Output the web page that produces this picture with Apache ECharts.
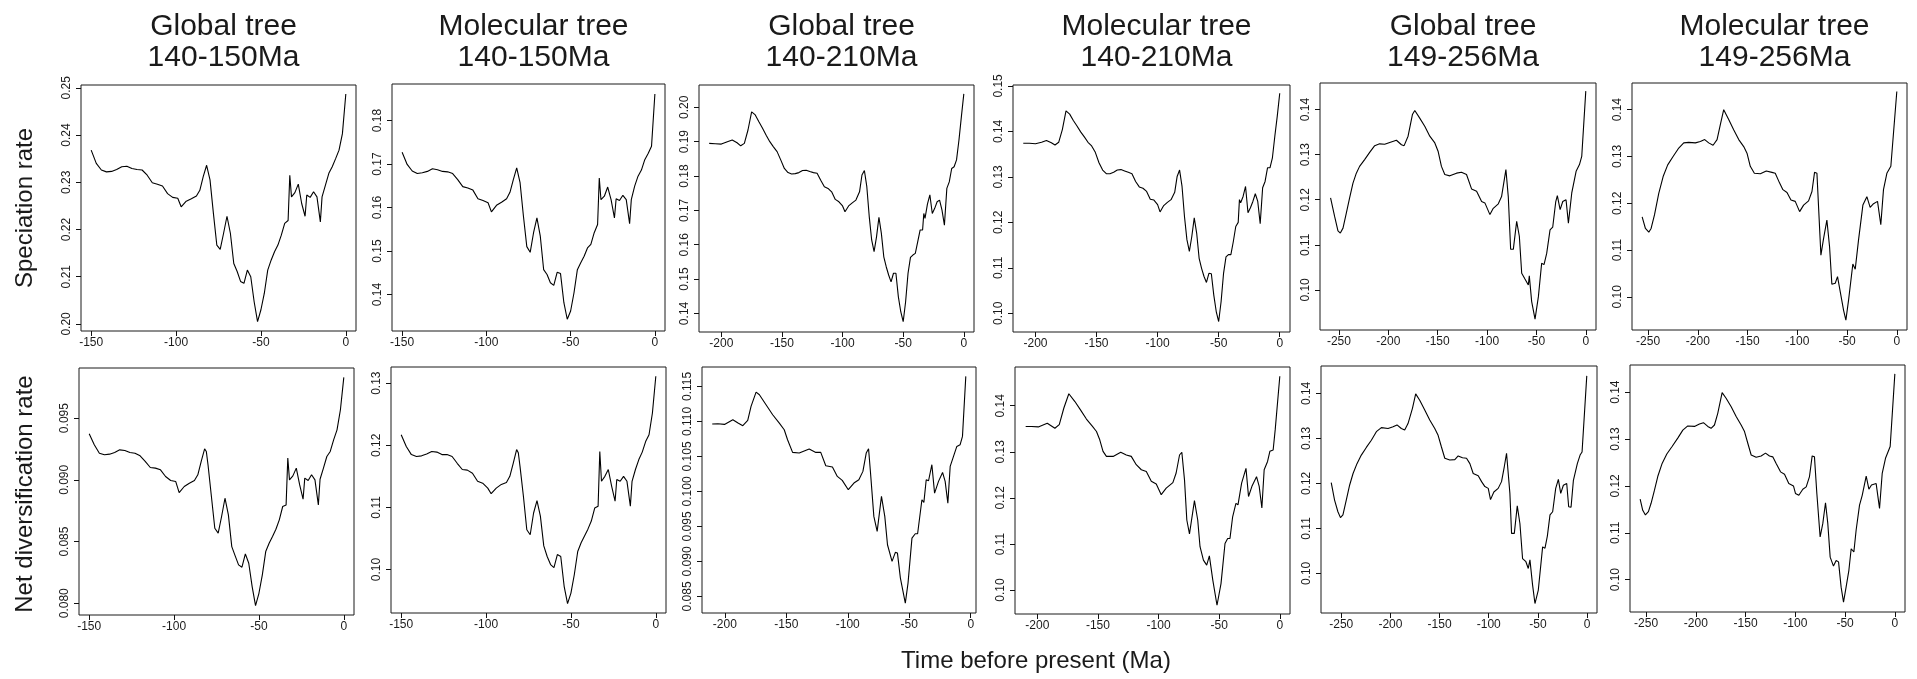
<!DOCTYPE html>
<html>
<head>
<meta charset="utf-8">
<title>Speciation and net diversification rates through time</title>
<script src="https://cdn.jsdelivr.net/npm/echarts@6/dist/echarts.min.js"></script>
<style>
  html, body { margin: 0; padding: 0; background: #fff; }
  #chart { width: 1917px; height: 679px; }
</style>
</head>
<body>
<div id="chart"></div>
<script>
// ---- data (time in Ma before present, rates per Ma) ----

// 140-150Ma trees
const time150 = [-150,-147,-144,-141,-138,-135,-132,-129,-126,-123,-120,-117,-114,-111,-108,-105,-102,-99,
  -97,-94,-91,-88,-86,-84,-82,-81,-80,
  -78,-76,-74,-72,-70,-68,-66,-64,-62,-60,-58,-56,-54,-52,-50,-48,-46,-44,-42,-40,-38,-36,-34,
  -33,-32,-30,-28,-26,-24,-23,-21,-19,-17,-15,-14,-12,-10,-8,-6,-4,-2,0];
const specGlobal150 = [0.2368,0.2340,0.2326,0.2322,0.2323,0.2327,0.2333,0.2334,0.2329,0.2327,0.2326,0.2315,0.2299,0.2296,0.2292,0.2276,0.2268,0.2266,
  0.2248,0.2260,0.2265,0.2271,0.2283,0.2312,0.2336,0.2333,0.2305,
  0.2234,0.2167,0.2158,0.2192,0.2228,0.2192,0.2128,0.2111,0.2090,0.2086,0.2114,0.2100,0.2047,0.2005,0.2030,0.2065,0.2114,0.2135,0.2153,0.2167,0.2188,0.2213,0.2219,
  0.2315,0.2269,0.2278,0.2296,0.2255,0.2228,0.2273,0.2268,0.2280,0.2269,0.2216,0.2269,0.2294,0.2319,0.2333,0.2350,0.2368,0.2403,0.2487];
const specMol150 = [0.1727,0.1699,0.1684,0.1678,0.1680,0.1683,0.1689,0.1687,0.1683,0.1682,0.1678,0.1664,0.1648,0.1645,0.1640,0.1620,0.1616,0.1611,
  0.1590,0.1605,0.1612,0.1620,0.1635,0.1664,0.1691,0.1687,0.1657,
  0.1580,0.1510,0.1497,0.1542,0.1576,0.1534,0.1457,0.1446,0.1427,0.1421,0.1451,0.1448,0.1381,0.1343,0.1362,0.1404,0.1457,0.1473,0.1488,0.1507,0.1515,0.1542,0.1561,
  0.1668,0.1618,0.1626,0.1647,0.1618,0.1576,0.1620,0.1616,0.1628,0.1618,0.1563,0.1618,0.1649,0.1672,0.1686,0.1710,0.1724,0.1741,0.1861];
const netGlobal150 = [0.09373,0.09284,0.09216,0.09203,0.09208,0.09222,0.09243,0.09238,0.09222,0.09216,0.09195,0.09149,0.09100,0.09095,0.09081,0.09027,0.08995,0.08986,
  0.08897,0.08946,0.08973,0.08995,0.09041,0.09149,0.09251,0.09230,0.09122,
  0.08865,0.08608,0.08568,0.08703,0.08851,0.08716,0.08459,0.08384,0.08311,0.08292,0.08400,0.08324,0.08135,0.07981,0.08081,0.08230,0.08419,0.08486,0.08541,0.08600,0.08676,0.08784,0.08797,
  0.09176,0.09000,0.09032,0.09095,0.08959,0.08843,0.09014,0.08995,0.09041,0.09000,0.08797,0.09005,0.09095,0.09189,0.09230,0.09324,0.09405,0.09568,0.09830];
const netMol150 = [0.1217,0.1198,0.1185,0.1182,0.1183,0.1186,0.1190,0.1189,0.1185,0.1185,0.1182,0.1171,0.1161,0.1160,0.1155,0.1142,0.1139,0.1131,
  0.1122,0.1131,0.1137,0.1140,0.1150,0.1171,0.1193,0.1188,0.1166,
  0.1118,0.1064,0.1056,0.1091,0.1111,0.1086,0.1038,0.1021,0.1008,0.1003,0.1024,0.1021,0.0973,0.0945,0.0962,0.0992,0.1029,0.1043,0.1054,0.1065,0.1078,0.1099,0.1102,
  0.1190,0.1142,0.1150,0.1161,0.1134,0.1110,0.1145,0.1142,0.1150,0.1142,0.1102,0.1142,0.1161,0.1177,0.1189,0.1206,0.1217,0.1252,0.1311];

// 140-210Ma trees
const time210 = [-210,-205,-200,-195,-191,-187,-184,-181,-178,-175,-172,-169,-166,-163,-160,-157,-154,-151,-148,-145,-142,-139,-136,-133,-130,-127,-124,-121,-118,-115,-112,-109,-106,-103,-100,
  -98,-95,-92,-89,-86,-84,-82,-81,-80,
  -78,-76,-74,-72,-70,-68,-66,-64,-62,-60,-58,-56,-54,-52,-50,-48,-46,-44,-42,-40,-38,-36,-34,
  -33,-32,-30,-28,-26,-24,-22,-20,-18,-16,-14,-12,-10,-8,-6,-4,-2,0];
const specGlobal210 = [0.1895,0.1894,0.1893,0.1900,0.1905,0.1897,0.1888,0.1895,0.1934,0.1987,0.1978,0.1958,0.1939,0.1919,0.1900,0.1885,0.1871,0.1847,0.1822,0.1810,0.1806,0.1807,0.1810,0.1816,0.1817,0.1813,0.1810,0.1808,0.1788,0.1769,0.1764,0.1754,0.1732,0.1725,0.1713,
  0.1696,0.1713,0.1722,0.1730,0.1754,0.1803,0.1816,0.1817,0.1769,
  0.1682,0.1614,0.1580,0.1623,0.1680,0.1633,0.1565,0.1536,0.1512,0.1492,0.1517,0.1517,0.1449,0.1405,0.1376,0.1434,0.1517,0.1563,0.1570,0.1575,0.1609,0.1643,0.1643,
  0.1691,0.1677,0.1718,0.1745,0.1691,0.1706,0.1725,0.1730,0.1701,0.1657,0.1764,0.1783,0.1822,0.1827,0.1847,0.1905,0.1973,0.2039];
const specMol210 = [0.1374,0.1374,0.1373,0.1376,0.1380,0.1375,0.1370,0.1376,0.1404,0.1445,0.1438,0.1424,0.1412,0.1399,0.1388,0.1376,0.1368,0.1354,0.1331,0.1315,0.1307,0.1307,0.1310,0.1315,0.1316,0.1313,0.1310,0.1307,0.1290,0.1278,0.1275,0.1268,0.1251,0.1249,0.1239,
  0.1223,0.1237,0.1244,0.1250,0.1266,0.1301,0.1315,0.1316,0.1279,
  0.1213,0.1162,0.1136,0.1169,0.1210,0.1176,0.1121,0.1099,0.1081,0.1068,0.1088,0.1087,0.1040,0.1004,0.0982,0.1026,0.1088,0.1124,0.1129,0.1129,0.1158,0.1191,0.1200,
  0.1250,0.1243,0.1257,0.1279,0.1221,0.1232,0.1246,0.1263,0.1246,0.1197,0.1276,0.1290,0.1320,0.1320,0.1342,0.1390,0.1434,0.1484];
const timeNetGlobal210 = [-210.3,-205.7,-200.3,-193.5,-189.3,-185.4,-181.4,-178.7,-174.6,-171.9,-166.5,-161.1,-155.7,-151.7,-149.0,-144.9,-139.5,-131.4,-126.0,-122.0,
  -117.9,-112.5,-108.5,-104.5,-99.6,-95.0,-91.0,-87.7,-85.0,-83.1,-81.5,-78.8,-76.1,-72.6,-69.9,-67.7,-64.0,-61.3,-59.6,-57.2,
  -53.2,-51.0,-47.8,-45.1,-43.2,-39.7,-38.1,-36.2,-34.3,-31.6,-29.4,-26.2,-22.9,-20.8,-18.6,-16.7,-14.0,-11.3,-8.6,-6.7,-4.0];
const netGlobal210 = [0.10962,0.10967,0.10957,0.11024,0.10976,0.10938,0.11014,0.11214,0.11419,0.11381,0.11238,0.11095,0.10976,0.10881,0.10738,0.10557,0.10548,0.10605,0.10557,0.10557,
  0.10367,0.10348,0.10214,0.10157,0.10024,0.10119,0.10167,0.10286,0.10548,0.10610,0.10262,0.09643,0.09429,0.09929,0.09643,0.09238,0.09000,0.09129,0.09119,0.08762,
  0.08405,0.08690,0.09333,0.09395,0.09395,0.09881,0.09843,0.10167,0.10152,0.10381,0.09976,0.10143,0.10271,0.10143,0.09833,0.10357,0.10500,0.10643,0.10667,0.10786,0.11643];
const timeNetMol210 = [-209.6,-204.7,-199.2,-191.8,-185.5,-181.9,-178.1,-174.0,-169.0,-164.4,-159.5,-154.5,-151.2,-148.5,-145.8,-143.0,-137.5,-131.2,-126.6,-122.5,
  -118.4,-114.2,-110.1,-106.0,-101.9,-97.8,-93.7,-88.2,-85.5,-82.7,-80.8,-78.6,-76.7,-74.5,-70.4,-67.7,-65.8,-63.0,-60.3,-58.1,
  -55.3,-51.8,-48.5,-45.2,-43.0,-41.1,-38.9,-36.2,-34.5,-31.5,-30.1,-27.9,-25.8,-23.0,-19.2,-17.0,-14.8,-12.9,-10.1,-8.2,-5.5,-3.8,0];
const netMol210 = [0.1355,0.1355,0.1354,0.1362,0.1351,0.1359,0.1395,0.1426,0.1409,0.1391,0.1371,0.1355,0.1344,0.1326,0.1301,0.1290,0.1290,0.1299,0.1293,0.1290,
  0.1272,0.1261,0.1257,0.1236,0.1230,0.1207,0.1221,0.1233,0.1254,0.1293,0.1299,0.1239,0.1152,0.1122,0.1194,0.1152,0.1094,0.1065,0.1054,0.1074,
  0.1022,0.0967,0.1014,0.1101,0.1112,0.1112,0.1159,0.1188,0.1185,0.1232,0.1228,0.1264,0.1203,0.1225,0.1246,0.1225,0.1178,0.1261,0.1279,0.1301,0.1304,0.1348,0.1464];

// 149-256Ma trees
const timeSpecGlobal256 = [-258.5,-254.4,-251.0,-248.6,-245.9,-242.6,-239.2,-235.8,-232.4,-229.1,-224.0,-218.9,-213.8,-208.8,-203.7,-198.6,-191.8,-186.7,-184.0,-180.0,
  -175.6,-173.2,-168.2,-163.1,-158.0,-152.9,-149.5,-146.2,-142.8,-137.7,-130.9,-125.9,-120.8,-115.7,-110.6,-105.5,-102.2,-97.1,-93.7,-88.6,
  -85.3,-80.9,-78.5,-76.1,-73.4,-70.0,-67.3,-64.9,-61.6,-58.2,-57.2,-54.8,-51.4,-48.0,-44.7,-42.3,-39.6,-36.2,-33.5,-30.4,
  -28.8,-26.0,-23.3,-20.0,-17.6,-14.2,-9.8,-6.4,-4.1,0];
const specGlobal256 = [0.1204,0.1163,0.1131,0.1126,0.1137,0.1170,0.1204,0.1237,0.1259,0.1274,0.1289,0.1305,0.1320,0.1324,0.1323,0.1327,0.1332,0.1322,0.1320,0.1341,
  0.1389,0.1398,0.1381,0.1363,0.1341,0.1326,0.1307,0.1274,0.1256,0.1253,0.1259,0.1261,0.1256,0.1224,0.1219,0.1196,0.1193,0.1167,0.1181,0.1191,
  0.1207,0.1267,0.1207,0.1090,0.1090,0.1152,0.1119,0.1037,0.1024,0.1011,0.1031,0.0974,0.0935,0.0985,0.1059,0.1056,0.1081,0.1133,0.1139,0.1196,
  0.1209,0.1178,0.1196,0.1200,0.1148,0.1215,0.1263,0.1278,0.1296,0.1441];
const timeSpecMol256 = [-256.0,-252.7,-249.3,-247.0,-243.6,-239.3,-234.9,-230.3,-224.9,-219.2,-214.2,-209.2,-202.5,-197.5,-193.1,-189.1,-184.7,-180.7,-177.4,-174.0,
  -169.0,-164.0,-158.9,-153.9,-150.6,-147.3,-143.2,-137.2,-131.2,-125.5,-122.2,-117.8,-114.5,-110.4,-106.4,-102.1,-97.7,-93.7,-88.7,-85.3,
  -82.7,-80.3,-76.3,-73.6,-70.3,-67.6,-65.3,-61.9,-59.6,-57.6,-53.5,-51.2,-48.5,-44.2,-41.8,-38.5,-34.1,-30.1,-26.8,-23.4,
  -19.4,-16.1,-13.4,-10.0,-6.0,-5.0,0];
const specMol256 = [0.1171,0.1146,0.1138,0.1146,0.1175,0.1221,0.1257,0.1282,0.1300,0.1318,0.1329,0.1330,0.1329,0.1332,0.1336,0.1329,0.1324,0.1336,0.1368,0.1400,
  0.1379,0.1357,0.1336,0.1321,0.1307,0.1279,0.1264,0.1263,0.1269,0.1266,0.1264,0.1243,0.1229,0.1223,0.1207,0.1204,0.1182,0.1196,0.1205,0.1225,
  0.1266,0.1264,0.1089,0.1125,0.1164,0.1107,0.1027,0.1029,0.1043,0.1039,0.0971,0.0950,0.0993,0.1070,0.1059,0.1121,0.1196,0.1214,0.1191,0.1199,
  0.1204,0.1154,0.1229,0.1264,0.1279,0.1282,0.1439];
const timeNetGlobal256 = [-260.2,-256.8,-253.4,-250.8,-248.3,-244.9,-241.5,-238.0,-234.0,-229.6,-224.5,-219.4,-214.3,-209.2,-202.4,-197.3,-193.3,-188.9,-185.5,-182.1,
  -177.6,-174.3,-170.2,-165.1,-160.0,-154.9,-151.5,-148.1,-144.7,-139.6,-134.5,-131.1,-126.7,-122.6,-119.2,-115.8,-110.7,-107.3,-103.9,-100.5,
  -98.2,-94.8,-90.4,-87.0,-84.2,-81.9,-78.5,-76.8,-74.0,-71.0,-68.3,-65.6,-62.2,-59.8,-58.1,-55.4,-53.0,-49.6,-45.2,-42.8,
  -40.4,-37.7,-35.0,-31.9,-29.2,-26.8,-24.1,-20.7,-18.7,-16.3,-13.9,-9.9,-7.1,-5.1,-0.3];
const netGlobal256 = [0.1202,0.1163,0.1137,0.1124,0.1130,0.1163,0.1196,0.1222,0.1244,0.1263,0.1280,0.1296,0.1315,0.1324,0.1322,0.1326,0.1330,0.1322,0.1319,0.1333,
  0.1367,0.1399,0.1385,0.1363,0.1341,0.1322,0.1307,0.1281,0.1256,0.1252,0.1253,0.1261,0.1257,0.1256,0.1244,0.1222,0.1217,0.1204,0.1193,0.1189,
  0.1164,0.1181,0.1189,0.1204,0.1237,0.1267,0.1178,0.1089,0.1089,0.1150,0.1111,0.1033,0.1026,0.1011,0.1030,0.0974,0.0933,0.0963,0.1059,0.1056,
  0.1083,0.1130,0.1137,0.1189,0.1209,0.1178,0.1196,0.1200,0.1148,0.1147,0.1207,0.1244,0.1263,0.1270,0.1439];
const timeNetMol256 = [-256.0,-253.4,-250.7,-247.7,-245.0,-241.6,-238.3,-233.9,-229.2,-223.9,-218.2,-213.1,-208.1,-201.4,-196.4,-192.4,-188.0,-184.7,-181.3,-178.0,
  -173.6,-169.6,-164.5,-159.5,-154.5,-151.1,-147.8,-144.4,-139.4,-134.4,-130.0,-126.0,-122.7,-119.3,-114.9,-110.9,-106.6,-101.9,-99.9,-96.5,
  -92.5,-89.1,-85.8,-83.1,-80.8,-78.4,-75.1,-72.4,-69.7,-67.4,-65.0,-61.7,-59.0,-56.6,-54.0,-51.6,-49.0,-46.2,-43.9,-41.2,
  -38.9,-35.5,-32.8,-28.8,-26.1,-23.5,-18.8,-15.4,-12.7,-9.4,-4.7,0];
const netMol256 = [0.1172,0.1148,0.1138,0.1145,0.1163,0.1191,0.1220,0.1248,0.1268,0.1284,0.1302,0.1319,0.1328,0.1327,0.1332,0.1335,0.1327,0.1323,0.1330,0.1355,
  0.1399,0.1387,0.1369,0.1348,0.1330,0.1316,0.1291,0.1266,0.1261,0.1264,0.1270,0.1264,0.1262,0.1248,0.1230,0.1225,0.1205,0.1200,0.1184,0.1180,
  0.1193,0.1198,0.1220,0.1264,0.1262,0.1184,0.1091,0.1120,0.1164,0.1120,0.1048,0.1029,0.1041,0.1038,0.0984,0.0952,0.0984,0.1020,0.1066,0.1059,
  0.1106,0.1159,0.1180,0.1221,0.1193,0.1202,0.1205,0.1152,0.1227,0.1259,0.1284,0.1439];

// tick labels
const xTicks150 = [-150, -100, -50, 0];
const xTicks210 = [-200, -150, -100, -50, 0];
const xTicks256 = [-250, -200, -150, -100, -50, 0];
const yTicksSpecGlobal150 = [0.20, 0.21, 0.22, 0.23, 0.24, 0.25];
const yTicksSpecMol150 = [0.14, 0.15, 0.16, 0.17, 0.18];
const yTicksSpecGlobal210 = [0.14, 0.15, 0.16, 0.17, 0.18, 0.19, 0.20];
const yTicksSpecMol210 = [0.10, 0.11, 0.12, 0.13, 0.14, 0.15];
const yTicks256 = [0.10, 0.11, 0.12, 0.13, 0.14];
const yTicksNetGlobal150 = [0.080, 0.085, 0.090, 0.095];
const yTicksNetMol150 = [0.10, 0.11, 0.12, 0.13];
const yTicksNetGlobal210 = [0.085, 0.090, 0.095, 0.100, 0.105, 0.110, 0.115];
const yTicksNetMol210 = [0.10, 0.11, 0.12, 0.13, 0.14];

const columnTitles = ['Global tree\n140-150Ma', 'Molecular tree\n140-150Ma', 'Global tree\n140-210Ma',
                      'Molecular tree\n140-210Ma', 'Global tree\n149-256Ma', 'Molecular tree\n149-256Ma'];

// ---- layout: one plot box per panel, same extents as the original R plots ----
const FONT = "'Liberation Sans', Arial, Helvetica, sans-serif";

const panels = [
  {box: [81, 85, 275, 246],    x: [-156, 6],       y: [0.1985, 0.2506],   xt: xTicks150, yt: yTicksSpecGlobal150, d: 2, t: time150, v: specGlobal150},
  {box: [392, 84, 273, 247],   x: [-156, 6],       y: [0.1316, 0.1884],   xt: xTicks150, yt: yTicksSpecMol150,    d: 2, t: time150, v: specMol150},
  {box: [699, 85, 275, 247],   x: [-218.4, 8.4],   y: [0.1346, 0.2065],   xt: xTicks210, yt: yTicksSpecGlobal210, d: 2, t: time210, v: specGlobal210},
  {box: [1013, 85, 277, 247],  x: [-218.4, 8.4],   y: [0.0959, 0.1502],   xt: xTicks210, yt: yTicksSpecMol210,    d: 2, t: time210, v: specMol210},
  {box: [1320, 83, 276, 247],  x: [-269.2, 10.35], y: [0.0911, 0.1459],   xt: xTicks256, yt: yTicks256,           d: 2, t: timeSpecGlobal256, v: specGlobal256},
  {box: [1632, 83, 275, 247],  x: [-266.2, 10.24], y: [0.0929, 0.1457],   xt: xTicks256, yt: yTicks256,           d: 2, t: timeSpecMol256,    v: specMol256},
  {box: [79, 368, 275, 247],   x: [-156, 6],       y: [0.07905, 0.09906], xt: xTicks150, yt: yTicksNetGlobal150,  d: 3, t: time150, v: netGlobal150},
  {box: [391, 367, 275, 246],  x: [-156, 6],       y: [0.0930, 0.1326],   xt: xTicks150, yt: yTicksNetMol150,     d: 2, t: time150, v: netMol150},
  {box: [702, 367, 274, 246],  x: [-218.6, 4.3],   y: [0.08263, 0.11777], xt: xTicks210, yt: yTicksNetGlobal210,  d: 3, t: timeNetGlobal210, v: netGlobal210},
  {box: [1015, 367, 275, 247], x: [-218.4, 8.4],   y: [0.0948, 0.1484],   xt: xTicks210, yt: yTicksNetMol210,     d: 2, t: timeNetMol210,    v: netMol210},
  {box: [1321, 366, 276, 247], x: [-270.6, 10.1],  y: [0.0912, 0.1461],   xt: xTicks256, yt: yTicks256,           d: 2, t: timeNetGlobal256, v: netGlobal256},
  {box: [1630, 365, 275, 247], x: [-266.2, 10.2],  y: [0.0931, 0.1458],   xt: xTicks256, yt: yTicks256,           d: 2, t: timeNetMol256,    v: netMol256}
];

const chart = echarts.init(document.getElementById('chart'));

const tickStyle = {show: true, length: 5, lineStyle: {color: '#111', width: 1}};
const labelStyle = {fontSize: 12, color: '#1a1a1a', fontFamily: FONT};

chart.setOption({
  animation: false,
  backgroundColor: '#fff',
  title: columnTitles.map((text, i) => ({
    text: text,
    left: panels[i].box[0] + panels[i].box[2] / 2,
    top: 6,
    textAlign: 'center',
    textStyle: {fontSize: 30, fontWeight: 'normal', color: '#1a1a1a', lineHeight: 31, fontFamily: FONT}
  })),
  grid: panels.map(p => ({
    left: p.box[0], top: p.box[1], width: p.box[2], height: p.box[3],
    show: true, borderColor: '#1a1a1a', borderWidth: 1, backgroundColor: 'transparent',
    containLabel: false, outerBoundsMode: 'none'
  })),
  xAxis: panels.map((p, i) => ({
    type: 'value', gridIndex: i, min: p.x[0], max: p.x[1], position: 'bottom',
    axisLine: {show: false, onZero: false}, splitLine: {show: false},
    axisTick: Object.assign({customValues: p.xt}, tickStyle),
    axisLabel: Object.assign({customValues: p.xt, margin: 6}, labelStyle)
  })),
  yAxis: panels.map((p, i) => ({
    type: 'value', gridIndex: i, min: p.y[0], max: p.y[1], position: 'left',
    axisLine: {show: false, onZero: false}, splitLine: {show: false},
    axisTick: Object.assign({customValues: p.yt}, tickStyle),
    axisLabel: Object.assign({customValues: p.yt, rotate: 90, margin: 8,
      formatter: val => val.toFixed(p.d)}, labelStyle)
  })),
  series: panels.map((p, i) => ({
    type: 'line', xAxisIndex: i, yAxisIndex: i,
    data: p.t.map((t, k) => [t, p.v[k]]),
    showSymbol: false, silent: true,
    lineStyle: {color: '#000', width: 1.1}
  })),
  graphic: [
    {type: 'text', x: 25, y: 208, rotation: Math.PI / 2,
     style: {text: 'Speciation rate', align: 'center', verticalAlign: 'middle', fontSize: 24, fontFamily: FONT, fill: '#1a1a1a'}},
    {type: 'text', x: 25, y: 494, rotation: Math.PI / 2,
     style: {text: 'Net diversification rate', align: 'center', verticalAlign: 'middle', fontSize: 24, fontFamily: FONT, fill: '#1a1a1a'}},
    {type: 'text', x: 1036, y: 661,
     style: {text: 'Time before present (Ma)', align: 'center', verticalAlign: 'middle', fontSize: 24, fontFamily: FONT, fill: '#1a1a1a'}}
  ]
});
</script>
</body>
</html>
